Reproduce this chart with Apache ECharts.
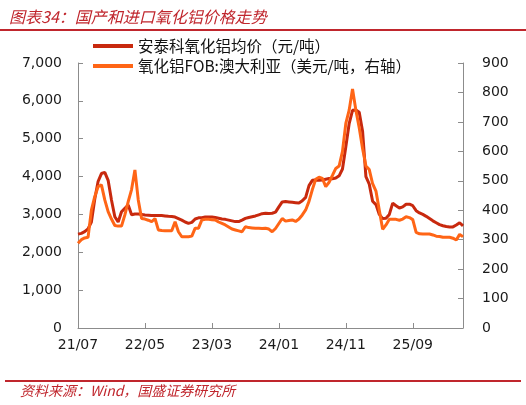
<!DOCTYPE html>
<html>
<head>
<meta charset="utf-8">
<script src="https://cdn.jsdelivr.net/npm/echarts@6/dist/echarts.min.js"></script>
<style>
  html, body { margin: 0; padding: 0; background: #fff; }
  #chart { width: 526px; height: 405px; }
</style>
</head>
<body>
<div id="chart"></div>
<script>
// semi-monthly points, 2021-07 .. 2026-03
const categories = [];
for (let k = 0; k < 116; k++) {
  const m = 6 + Math.floor(k / 2);
  const y = 2021 + Math.floor(m / 12);
  const mm = String((m % 12) + 1).padStart(2, "0");
  categories.push(y + "-" + mm + (k % 2 === 0 ? "-01" : "-16"));
}

// 安泰科氧化铝均价 (元/吨)
const domesticPrice = [
  2480, 2500, 2545, 2620, 2800, 3400, 3870, 4080, 4110, 3900,
  3380, 2940, 2800, 3070, 3160, 3250, 2990, 3010, 3010, 3000,
  2985, 2980, 2970, 2970, 2975, 2970, 2960, 2950, 2945, 2930,
  2890, 2850, 2800, 2765, 2790, 2880, 2910, 2915, 2930, 2935,
  2930, 2920, 2900, 2880, 2870, 2850, 2830, 2810, 2810, 2850,
  2895, 2920, 2940, 2960, 2990, 3020, 3030, 3025, 3030, 3060,
  3200, 3330, 3340, 3330, 3320, 3310, 3300, 3360, 3450, 3760,
  3900, 3910, 3900, 3910, 3930, 3950, 3940, 3960, 4020, 4200,
  4790, 5400, 5750, 5760, 5700, 5200, 4000, 3800, 3350, 3260,
  3000, 2890, 2900, 3000, 3300, 3230, 3170, 3200, 3270, 3270,
  3230, 3100, 3040, 3000, 2950, 2890, 2830, 2780, 2730, 2700,
  2680, 2670, 2670, 2720, 2780, 2700
];

// 氧化铝FOB:澳大利亚 (美元/吨, 右轴)
const australiaFob = [
  288, 300, 306, 308, 400, 446, 480, 486, 435, 395,
  370, 348, 346, 346, 384, 429, 470, 537, 435, 372,
  370, 366, 361, 372, 333, 331, 330, 330, 330, 361,
  327, 310, 310, 310, 312, 339, 339, 367, 369, 369,
  368, 367, 360, 355, 350, 343, 336, 333, 330, 327,
  344, 341, 340, 339, 339, 338, 339, 336, 327, 338,
  355, 372, 363, 365, 367, 362, 370, 384, 401, 430,
  470, 505, 512, 508, 480, 495, 518, 542, 550, 600,
  695, 740, 812, 740, 680, 610, 550, 538, 490, 465,
  400, 335, 350, 369, 369, 369, 366, 370, 378, 375,
  368, 325, 320, 319, 319, 319, 316, 312, 311, 308,
  308, 308, 305, 299, 318, 310
];

const seriesNames = ["安泰科氧化铝均价（元/吨）", "氧化铝FOB:澳大利亚（美元/吨，右轴）"];
const leftTicks = [0, 7000, 1000];
const rightTicks = [0, 900, 100];

const chart = echarts.init(document.getElementById("chart"));

const axisFont = { fontFamily: "DejaVu Sans", fontSize: 14, color: "#1a1a1a" };
const axisLine = { show: true, lineStyle: { color: "#8c8c8c", width: 1 } };

const options = {
  animation: false,
  backgroundColor: "#fff",
  title: {
    text: "图表34：国产和进口氧化铝价格走势",
    left: 4,
    top: 4,
    textStyle: {
      fontFamily: "Noto Sans CJK SC",
      fontSize: 16,
      fontWeight: "normal",
      fontStyle: "italic",
      color: "#c0262d",
    },
  },
  graphic: [
    { type: "line", shape: { x1: 0, y1: 30, x2: 526, y2: 30 }, style: { stroke: "#c0262d", lineWidth: 2 } },
    { type: "line", shape: { x1: 5, y1: 381, x2: 521, y2: 381 }, style: { stroke: "#c0262d", lineWidth: 2 } },
    {
      type: "text",
      left: 20,
      top: 384,
      style: {
        text: "资料来源：Wind，国盛证券研究所",
        font: "italic 14px 'Noto Sans CJK SC'",
        fill: "#c0262d",
      },
    },
  ],
  legend: {
    data: seriesNames,
    orient: "vertical",
    left: 88,
    top: 32,
    itemWidth: 40,
    itemHeight: 4,
    itemGap: 2,
    icon: "rect",
    textStyle: { fontFamily: "Noto Sans CJK SC", fontSize: 15.5, color: "#111", lineHeight: 18 },
  },
  grid: { left: 78, right: 63, top: 63, bottom: 77 },
  xAxis: {
    type: "category",
    data: categories,
    boundaryGap: false,
    axisLine: axisLine,
    axisTick: { show: true, inside: true, interval: 19, length: 5, lineStyle: { color: "#8c8c8c" } },
    axisLabel: Object.assign({ interval: 19, margin: 10, formatter: (v) => v.slice(2, 4) + "/" + v.slice(5, 7) }, axisFont),
    splitLine: { show: false },
  },
  yAxis: [
    {
      type: "value",
      min: leftTicks[0],
      max: leftTicks[1],
      interval: leftTicks[2],
      axisLine: axisLine,
      axisTick: { show: true, inside: true, length: 5, lineStyle: { color: "#8c8c8c" } },
      axisLabel: Object.assign({ margin: 16, formatter: (v) => v.toLocaleString("en-US") }, axisFont),
      splitLine: { show: false },
    },
    {
      type: "value",
      min: rightTicks[0],
      max: rightTicks[1],
      interval: rightTicks[2],
      axisLine: axisLine,
      axisTick: { show: true, inside: true, length: 5, lineStyle: { color: "#8c8c8c" } },
      axisLabel: Object.assign({ margin: 19 }, axisFont),
      splitLine: { show: false },
    },
  ],
  series: [
    {
      name: seriesNames[0],
      type: "line",
      yAxisIndex: 0,
      data: domesticPrice,
      showSymbol: false,
      color: "#c8290e",
      lineStyle: { width: 3, color: "#c8290e" },
    },
    {
      name: seriesNames[1],
      type: "line",
      yAxisIndex: 1,
      data: australiaFob,
      showSymbol: false,
      color: "#ff6516",
      lineStyle: { width: 3, color: "#ff6516" },
    },
  ],
};

chart.setOption(options);
</script>
</body>
</html>
